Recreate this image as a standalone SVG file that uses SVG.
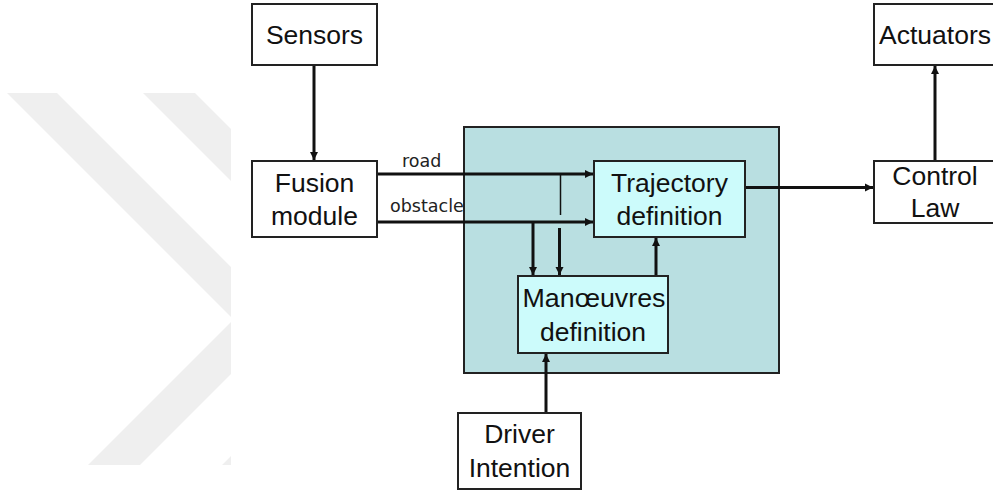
<svg xmlns="http://www.w3.org/2000/svg" width="993" height="495" viewBox="0 0 993 495">
<style>
.box{fill:#ffffff;stroke:#222;stroke-width:2}
.inner{fill:#ccfbfb;stroke:#222;stroke-width:2}
.outer{fill:#b9dfe1;stroke:#222;stroke-width:2}
.t{font-family:"Liberation Sans",Arial,sans-serif;font-size:26.5px;fill:#111;text-anchor:middle}
.lbl{font-family:"DejaVu Sans",sans-serif;font-size:17.5px;fill:#222}
.c{stroke:#111;stroke-width:3;fill:none}
.thin{stroke:#111;stroke-width:1.5;fill:none}
.wm{fill:#efefef}
</style>
<defs>
<marker id="ah" markerUnits="userSpaceOnUse" markerWidth="9" markerHeight="9" refX="8" refY="4.5" orient="auto">
<path d="M0,0.5 L8,4.5 L0,8.5 z" fill="#111"/>
</marker>
<clipPath id="wmclip"><rect x="0" y="93" width="231" height="372"/></clipPath>
</defs>
<g id="watermark" clip-path="url(#wmclip)">
<polygon class="wm" points="7,93 57,93 284.5,320.5 140,465 88,465 233.5,319.5"/>
<polygon class="wm" points="143,93 195,93 420.5,318.5 274,465 222,465 368.5,318.5"/>
</g>
<g id="planner">
<rect class="outer" x="464" y="127" width="315" height="246"/>
</g>
<g id="connectors">
<line class="c" x1="314" y1="65" x2="314" y2="160" marker-end="url(#ah)"/>
<line class="c" x1="377" y1="174" x2="593" y2="174" marker-end="url(#ah)"/>
<line class="c" x1="377" y1="222" x2="593" y2="222" marker-end="url(#ah)"/>
<line class="thin" x1="560.5" y1="174" x2="560.5" y2="215"/>
<line class="c" x1="559.5" y1="228" x2="559.5" y2="275" marker-end="url(#ah)"/>
<line class="c" x1="533" y1="222" x2="533" y2="275" marker-end="url(#ah)"/>
<line class="c" x1="656" y1="276" x2="656" y2="238" marker-end="url(#ah)"/>
<line class="c" x1="546" y1="413" x2="546" y2="354" marker-end="url(#ah)"/>
<line class="c" x1="745" y1="187.5" x2="873" y2="187.5" marker-end="url(#ah)"/>
<line class="c" x1="935" y1="161" x2="935" y2="66" marker-end="url(#ah)"/>
</g>
<g id="labels">
<text class="lbl" x="402" y="167">road</text>
<text class="lbl" x="390" y="212">obstacle</text>
</g>
<g id="sensors">
<rect class="box" x="252" y="4" width="125" height="61"/>
<text class="t" x="314.5" y="44">Sensors</text>
</g>
<g id="fusion">
<rect class="box" x="252" y="161" width="125" height="76"/>
<text class="t" x="314.5" y="192">Fusion</text>
<text class="t" x="314.5" y="225">module</text>
</g>
<g id="trajectory">
<rect class="inner" x="594" y="161" width="151" height="76"/>
<text class="t" x="669.5" y="192">Trajectory</text>
<text class="t" x="669.5" y="225">definition</text>
</g>
<g id="manoeuvres">
<rect class="inner" x="518" y="276" width="150" height="77"/>
<text class="t" x="594" y="307" textLength="143" lengthAdjust="spacingAndGlyphs">Manœuvres</text>
<text class="t" x="593" y="341">definition</text>
</g>
<g id="driver">
<rect class="box" x="458" y="413" width="123" height="76"/>
<text class="t" x="519.5" y="443">Driver</text>
<text class="t" x="519.5" y="477">Intention</text>
</g>
<g id="actuators">
<rect class="box" x="874" y="4" width="122" height="61"/>
<text class="t" x="935" y="44">Actuators</text>
</g>
<g id="control">
<rect class="box" x="874" y="161" width="122" height="62"/>
<text class="t" x="935" y="185">Control</text>
<text class="t" x="935" y="217">Law</text>
</g>
</svg>
